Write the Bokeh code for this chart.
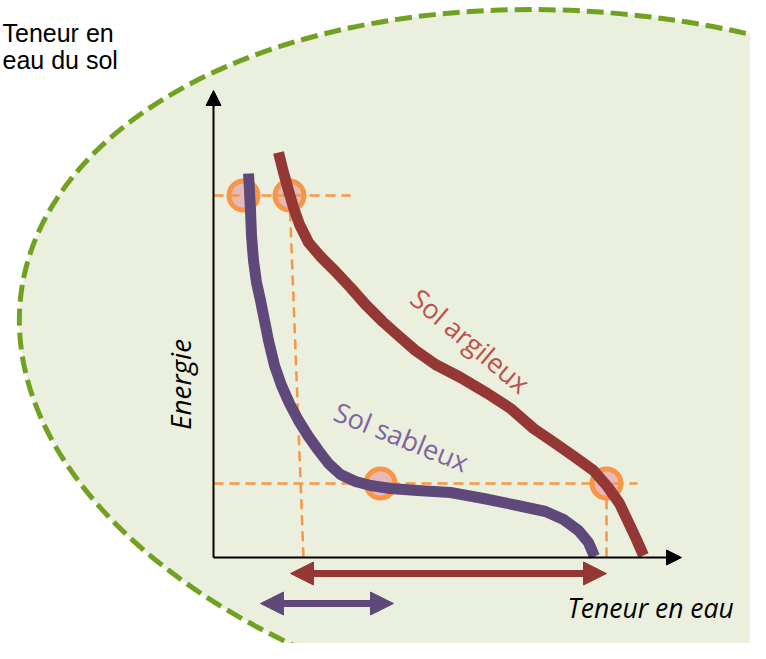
from bokeh.plotting import figure
from bokeh.models import Range1d, Arrow, NormalHead, Label
from bokeh.embed import file_html
from bokeh.resources import INLINE
import math

# ---- data (units: diagram units, origin at the axes' corner) ----
sable_x = [35, 36, 37, 38, 40, 43, 47, 51, 55, 61, 68, 76, 85, 95, 105, 115, 127, 142, 157, 177,
           204, 237, 270, 304, 332, 350, 365, 375, 381]
sable_y = [384, 367, 347, 322, 297, 275, 257, 237, 217, 192, 172, 154, 137, 121, 107, 94, 83, 76, 72, 69,
           67, 65, 59, 52, 46, 38, 27, 15, 1]

argile_x = [65, 70, 75, 80, 86, 95, 107, 122, 137, 152, 169, 187, 202, 222, 247, 274, 297, 320, 342,
            362, 380, 394, 406, 415, 423, 430]
argile_y = [405, 385, 367, 350, 333, 315, 301, 286, 270, 253, 236, 220, 207, 193, 180, 164, 149, 129, 114,
            100, 87, 71, 54, 35, 18, 2]

# marked points (orange circles)
mark_x = [30, 76, 167, 393]
mark_y = [362, 362, 74, 74]

# guide lines (dashed orange)
guide_xs = [[0, 137], [76, 90], [0, 424], [393, 393]]
guide_ys = [[362, 362], [362, 0], [74, 74], [74, 0]]

# available-water ranges (double arrows)
argile_range = [77, 393]
sable_range = [47, 180]

# axes extent
x_axis_end = 468
y_axis_end = 467

# background ellipse
ell_cx, ell_cy, ell_w, ell_h, ell_angle_deg = 400, 186.5, 1195, 712, -7.56

W, H = 750, 643
p = figure(width=W, height=H, output_backend="svg", toolbar_location=None,
           x_range=Range1d(-213, 537), y_range=Range1d(-86, 557),
           min_border=0, outline_line_color=None, background_fill_color="white",
           border_fill_color="white")
p.axis.visible = False
p.grid.visible = False

# ellipse
p.ellipse(x=[ell_cx], y=[ell_cy], width=[ell_w], height=[ell_h],
          angle=[math.radians(ell_angle_deg)],
          fill_color="#EBEFDE", line_color="#71A121", line_width=5, line_dash="17 7")

# circles
p.circle(x=mark_x, y=mark_y, radius=14.5, fill_color="#E6B9B8",
         line_color="#F79646", line_width=5)

# dashed guides
p.multi_line(xs=guide_xs, ys=guide_ys, line_color="#F79646", line_width=2.5, line_dash="10 6")

# curves
p.line(sable_x, sable_y, line_color="#5F497A", line_width=11, line_join="round")
p.line(argile_x, argile_y, line_color="#953735", line_width=11, line_join="round")

# axes with arrows
p.add_layout(Arrow(end=NormalHead(size=15, fill_color="black", line_color="black", line_width=1),
                   x_start=0, y_start=0, x_end=x_axis_end, y_end=0,
                   line_color="black", line_width=2))
p.add_layout(Arrow(end=NormalHead(size=15, fill_color="black", line_color="black", line_width=1),
                   x_start=0, y_start=0, x_end=0, y_end=y_axis_end,
                   line_color="black", line_width=2))

# range arrows
p.add_layout(Arrow(start=NormalHead(size=23, fill_color="#953735", line_color="#953735", line_width=1),
                   end=NormalHead(size=23, fill_color="#953735", line_color="#953735", line_width=1),
                   x_start=argile_range[0], y_start=-16, x_end=argile_range[1], y_end=-16,
                   line_color="#953735", line_width=7))
p.add_layout(Arrow(start=NormalHead(size=23, fill_color="#5F497A", line_color="#5F497A", line_width=1),
                   end=NormalHead(size=23, fill_color="#5F497A", line_color="#5F497A", line_width=1),
                   x_start=sable_range[0], y_start=-46, x_end=sable_range[1], y_end=-46,
                   line_color="#5F497A", line_width=7))

# texts
p.add_layout(Label(x=-211, y=525, text="Teneur en", text_font="Liberation Sans",
                   text_font_size="25px", text_color="black", text_baseline="alphabetic"))
p.add_layout(Label(x=-211, y=498, text="eau du sol", text_font="Liberation Sans",
                   text_font_size="25px", text_color="black", text_baseline="alphabetic"))
p.add_layout(Label(x=-34, y=173, text="Energie", text_font="Open Sans", text_font_style="italic",
                   text_font_size="28px", text_color="black", angle=math.pi / 2,
                   text_align="center", text_baseline="alphabetic"))
p.add_layout(Label(x=354, y=-50, text="Teneur en eau", text_font="Open Sans", text_font_style="italic",
                   text_font_size="26.5px", text_color="black", text_align="left",
                   text_baseline="alphabetic"))
p.add_layout(Label(x=257, y=217, text="Sol argileux", text_font="Open Sans",
                   text_font_size="27px", text_color="#C0504D", angle=math.radians(-40),
                   text_align="center", text_baseline="middle"))
p.add_layout(Label(x=188, y=121, text="Sol sableux", text_font="Open Sans",
                   text_font_size="27px", text_color="#8064A2", angle=math.radians(-22),
                   text_align="center", text_baseline="middle"))

open("out.html", "w").write(file_html(p, INLINE))
